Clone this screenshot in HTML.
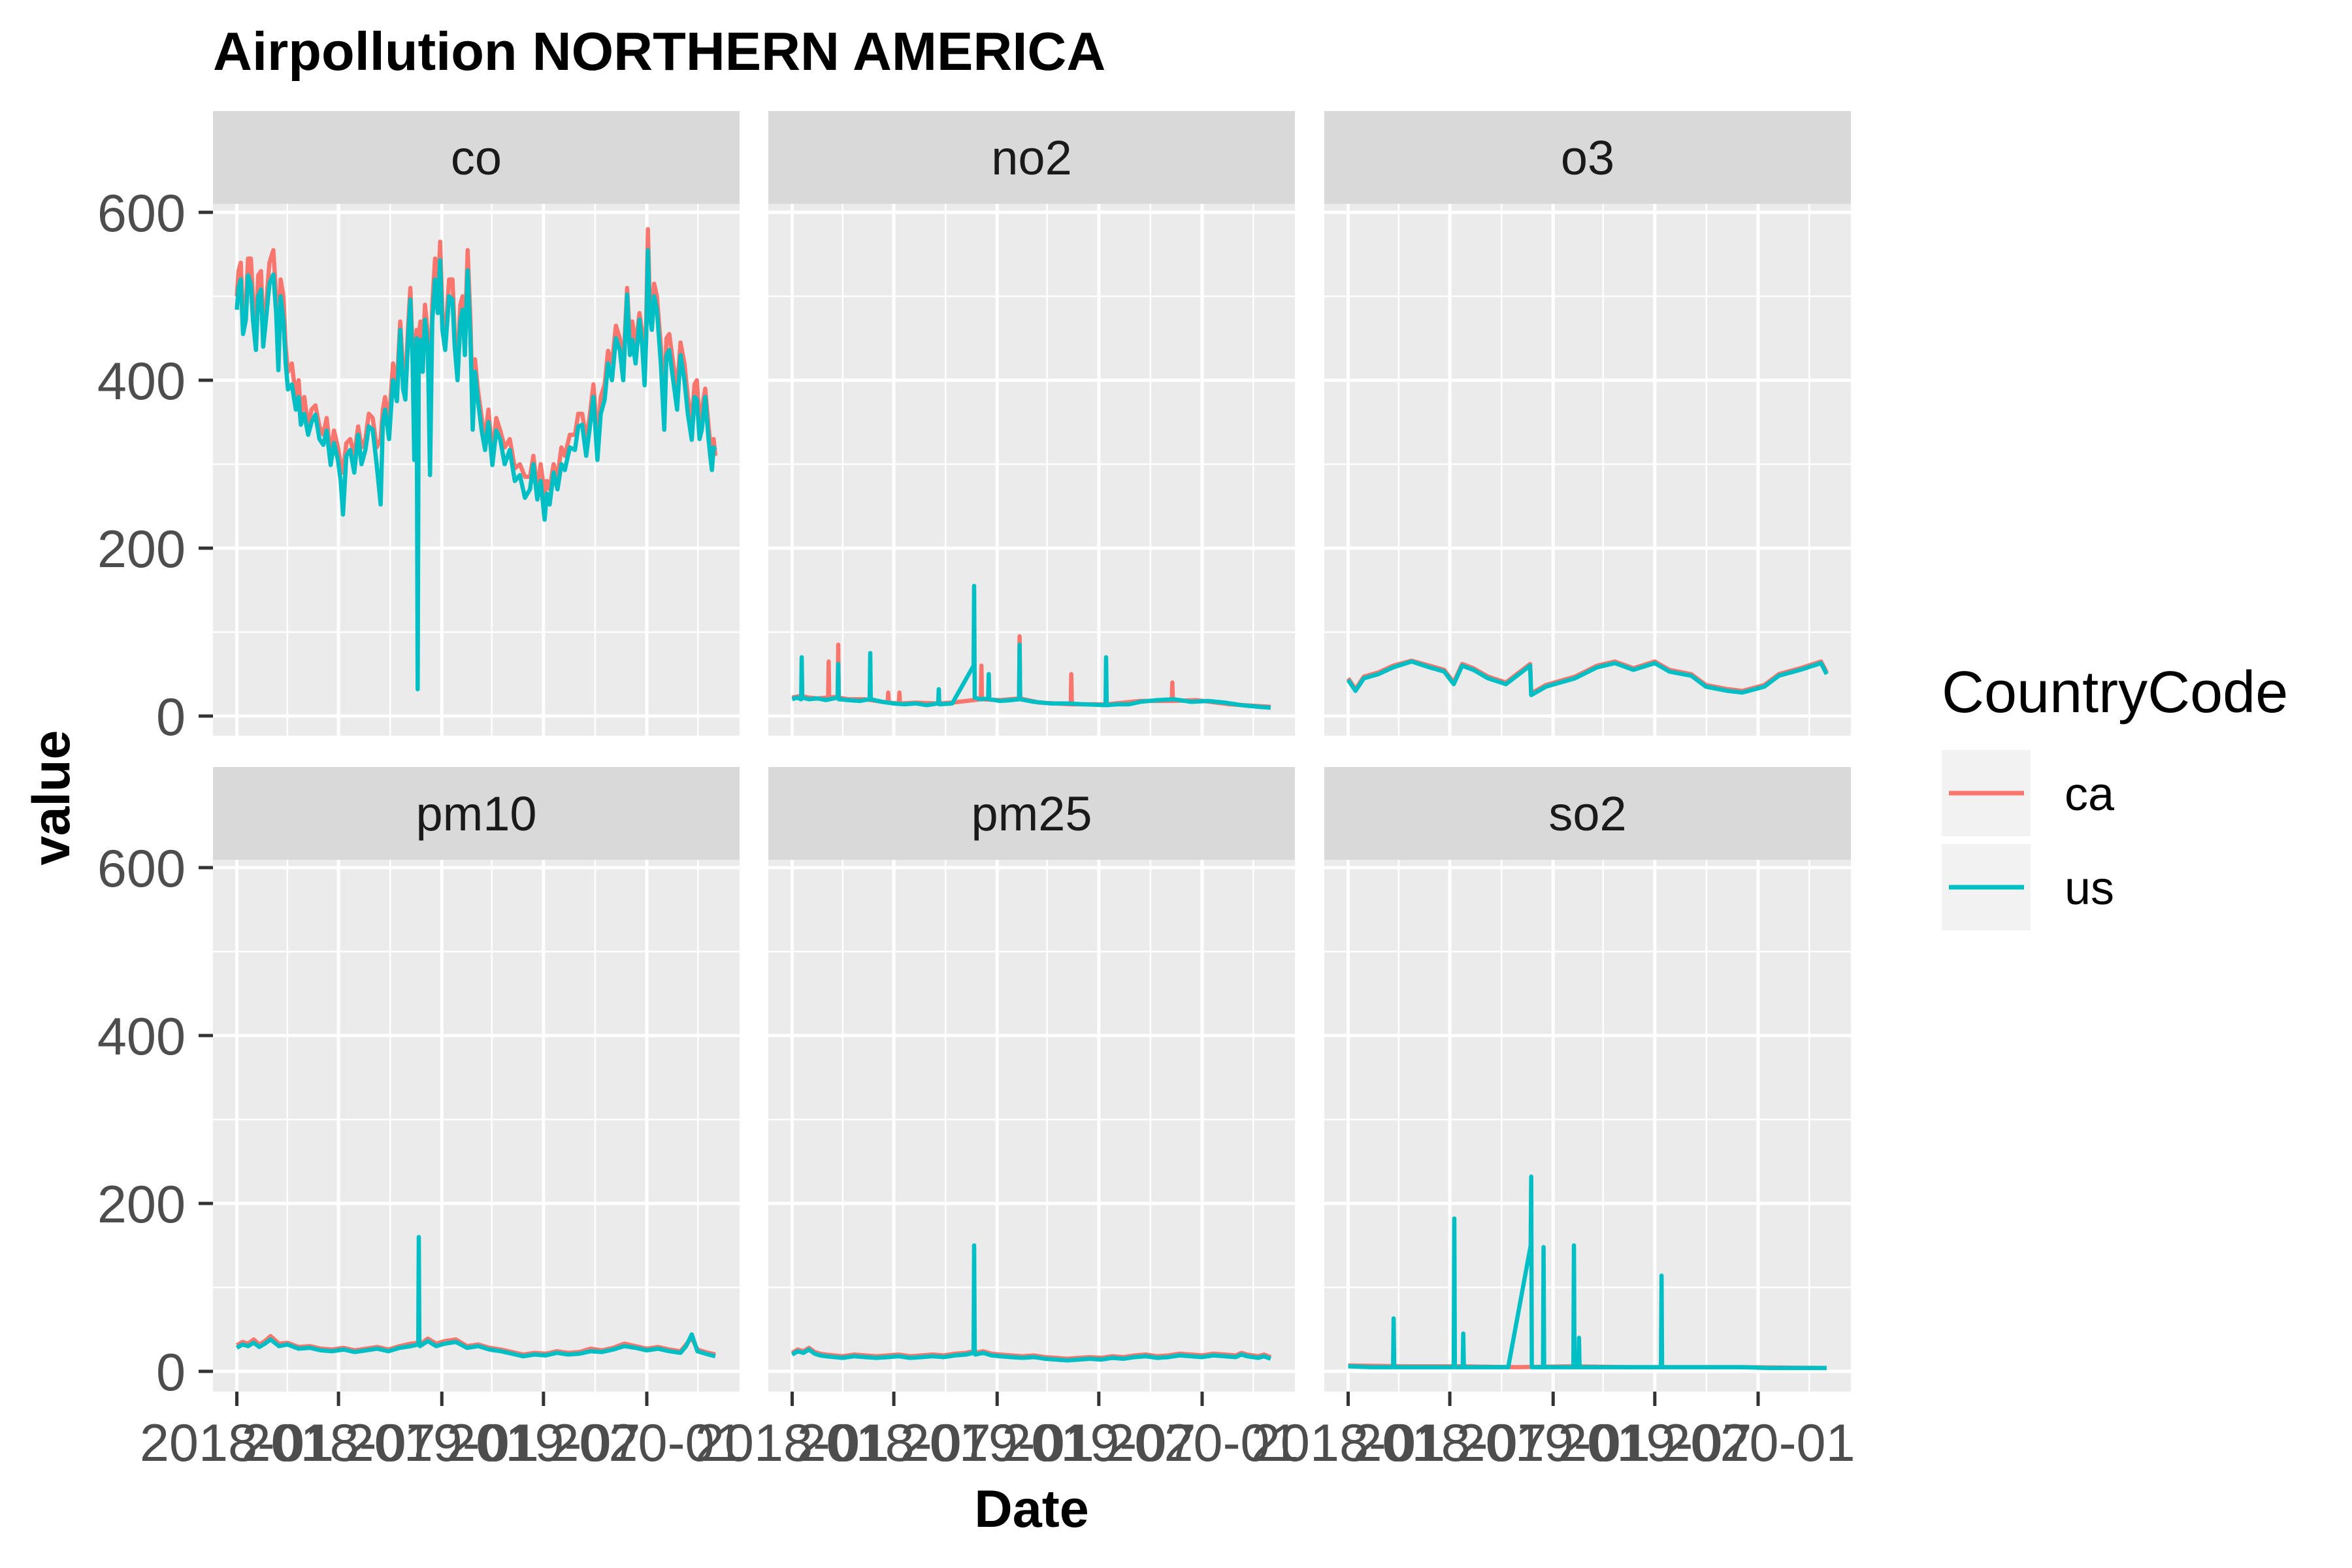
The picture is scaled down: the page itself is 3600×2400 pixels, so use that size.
<!DOCTYPE html>
<html><head><meta charset="utf-8">
<style>
html,body{margin:0;padding:0;background:#fff;}
svg{display:block;font-family:"Liberation Sans",Arial,sans-serif;}
</style></head>
<body>
<svg id="chart" width="3600" height="2400" viewBox="0 0 3600 2400" xmlns="http://www.w3.org/2000/svg">
<rect x="0" y="0" width="3600" height="2400" fill="#ffffff"/>
<text x="326" y="107" font-size="83" font-weight="bold" fill="#000">Airpollution NORTHERN AMERICA</text>
<text transform="translate(106,1221) rotate(-90)" text-anchor="middle" font-size="81" font-weight="bold" fill="#000">value</text>
<text x="1579" y="2337" text-anchor="middle" font-size="81" font-weight="bold" fill="#000">Date</text>
<g>
<text x="2972" y="1090" font-size="90" fill="#000">CountryCode</text>
<g>
<rect x="2972" y="1148" width="136" height="132" fill="#F2F2F2"/>
<line x1="2983" x2="3098" y1="1214" y2="1214" stroke="#F8766D" stroke-width="7"/>
<text x="3160" y="1240" font-size="72" fill="#000">ca</text>
</g>
<g>
<rect x="2972" y="1292" width="136" height="132" fill="#F2F2F2"/>
<line x1="2983" x2="3098" y1="1358" y2="1358" stroke="#00BFC4" stroke-width="7"/>
<text x="3160" y="1384" font-size="72" fill="#000">us</text>
</g>
</g>
<g id="panels"></g>
</svg>
<script>
// ---- data (days since 2018-01-01) ----
const panelNames = ["co","no2","o3","pm10","pm25","so2"];
const xTickLabels = ["2018-01","2018-07","2019-01","2019-07","2020-01"];
const xTickDays = [0,181,365,546,730];
const xMinorDays = [90,273,454,638,821];
const yTickLabels = ["0","200","400","600"];
const yTickValues = [0,200,400,600];
const yMinorValues = [100,300,500];

const coDays = [0,3,7,11,16,20,25,29,34,38,43,47,51,58,65,70,74,78,83,87,91,98,105,110,114,120,127,133,140,147,154,160,167,173,180,185,189,195,202,209,216,222,229,235,242,249,256,260,264,271,278,285,291,296,300,305,309,313,316,320,322,324,327,331,335,340,344,348,353,358,362,366,371,378,384,388,393,398,402,406,411,416,420,424,429,436,442,448,455,462,469,477,486,495,504,513,522,528,535,541,548,552,557,564,571,578,584,593,602,608,615,622,628,635,642,648,655,661,668,675,682,688,695,700,704,710,717,722,726,729,732,735,739,743,748,755,761,765,770,777,784,790,797,803,810,815,819,824,828,834,840,843,846,849,852];
const coUs = [484,510,520,455,472,525,514,470,436,500,508,440,466,515,526,480,412,500,472,420,389,395,365,380,347,360,335,350,359,330,323,340,299,325,305,280,240,310,317,290,335,300,317,345,341,300,252,350,365,330,400,375,460,390,377,450,496,420,305,450,32,440,448,410,472,440,287,470,520,480,543,460,436,500,496,440,400,470,484,430,531,450,341,410,377,340,317,350,299,340,329,300,317,280,287,260,270,300,258,280,234,265,252,290,270,300,293,320,317,345,347,310,341,380,305,360,377,420,400,450,436,400,502,430,448,420,472,440,394,450,555,480,460,500,484,420,341,430,436,400,365,430,400,360,329,380,377,330,341,380,329,310,293,320,317];
const coCa = [500,530,540,470,490,545,545,495,460,525,530,460,480,540,555,500,430,520,500,440,410,420,380,400,360,380,345,365,370,345,335,355,310,340,320,300,290,325,330,310,345,320,330,360,355,320,330,365,380,350,420,395,470,410,395,465,510,430,420,460,430,455,470,430,490,455,350,490,545,500,565,480,450,520,520,455,420,490,500,450,555,470,360,425,390,355,330,365,310,355,340,320,330,295,300,285,285,310,270,300,265,280,270,300,285,320,310,335,335,360,360,330,355,395,330,380,395,435,420,465,450,415,510,445,470,440,480,455,420,470,580,500,480,515,500,440,370,450,455,420,390,445,420,380,350,395,400,350,365,390,345,325,310,330,310];

const no2UsDays = [0,8,16,17,18,30,45,60,81,82,83,100,120,138,139,140,160,180,200,220,240,260,261,262,285,323,324,325,335,349,350,351,370,390,404,405,406,430,460,490,520,558,559,560,580,600,620,650,680,710,740,770,800,830,852];
const no2Us = [20,22,20,70,22,20,21,19,22,62,20,19,18,20,75,20,17,15,14,15,13,15,32,14,15,60,155,22,20,21,50,20,18,19,20,85,20,17,15,15,14,13,70,13,14,14,17,19,20,17,18,16,13,11,10];
const no2CaDays = [0,15,30,45,64,65,66,81,82,83,100,130,170,171,172,190,191,192,220,260,285,336,337,338,370,404,405,406,440,496,497,498,560,620,676,677,678,720,780,852];
const no2Ca = [22,24,22,21,22,65,22,23,85,22,20,20,16,28,16,15,28,15,16,15,16,20,60,20,19,21,95,21,16,14,50,14,14,18,18,40,18,19,14,11];

const o3Days = [0,13,28,54,80,113,145,171,188,203,223,249,281,324,326,352,378,404,443,475,508,546,572,611,637,676,702,741,767,805,842,852];
const o3Us = [43,30,45,50,58,65,58,53,38,60,55,45,38,60,25,35,40,45,58,63,55,63,53,48,35,30,28,35,48,55,63,50];
const o3Ca = [45,32,47,52,60,66,60,55,40,62,57,47,40,62,27,37,42,47,60,65,57,65,55,50,37,32,30,37,50,57,65,52];

const pmDays = [0,10,20,30,40,50,60,75,90,110,130,150,170,190,210,230,250,270,290,310,323,324,325,326,340,355,370,390,410,430,450,470,490,510,530,550,570,590,610,630,650,670,690,710,730,750,770,790,800,810,820,830,840,852];
const pm10Us = [28,32,30,34,29,33,38,30,32,27,28,25,24,26,23,25,27,24,28,30,32,160,35,30,36,30,33,35,28,30,26,24,21,18,20,19,22,20,21,24,23,26,30,28,25,27,24,22,30,44,24,22,20,18];
const pm10Ca = [31,35,33,38,32,36,42,33,34,29,30,27,26,28,25,27,29,26,30,33,34,36,37,32,39,33,36,38,30,32,28,26,23,20,22,21,24,22,23,27,25,28,33,30,27,29,26,24,32,40,26,24,22,20];
const pm25Us = [20,24,22,26,21,19,18,17,16,18,17,16,17,18,16,17,18,17,19,20,22,150,25,20,22,19,18,17,16,17,15,14,13,14,15,14,16,15,17,18,16,17,19,18,17,19,18,17,20,18,17,16,18,15];
const pm25Ca = [22,26,24,28,23,21,20,19,18,20,19,18,19,20,18,19,20,19,21,22,24,26,27,22,24,21,20,19,18,19,17,16,15,16,17,16,18,17,19,20,18,19,21,20,19,21,20,19,22,20,19,18,20,17];

const so2UsDays = [0,40,80,81,82,120,160,188,189,190,204,205,206,240,285,325,326,327,347,348,349,401,402,403,410,411,412,450,500,557,558,559,600,650,700,750,800,852];
const so2Us = [6,5,5,63,5,5,5,5,182,5,5,45,5,5,5,150,232,5,5,148,5,5,150,5,5,40,5,5,5,5,114,5,5,5,5,4,4,4];
const so2CaDays = [0,100,200,300,400,500,600,700,852];
const so2Ca = [7,6,6,5,6,5,5,5,4];

// ---- layout ----
const NS = "http://www.w3.org/2000/svg";
const colX = [326,1176,2027];
const panelW = 806;
const rowStripTop = [170,1174];
const stripH = 142;
const panelTop = [312,1316];
const panelBot = [1126,2130];
const zeroY = [1096,2099];
const pxPerUnit = 1.285;
const pxPerDay = 0.8596;
const xOff = 36.5;
const RED = "#F8766D", CYAN = "#00BFC4";

function xScale(col, d){ return colX[col] + xOff + d*pxPerDay; }
function yScale(row, v){ return zeroY[row] - v*pxPerUnit; }

function mk(tag, attrs, parent){
  const el = document.createElementNS(NS, tag);
  for (const k in attrs) el.setAttribute(k, attrs[k]);
  parent.appendChild(el);
  return el;
}

const root = document.getElementById("panels");
const seriesByPanel = {
  co:   [[coDays,coCa,RED],[coDays,coUs,CYAN]],
  no2:  [[no2CaDays,no2Ca,RED],[no2UsDays,no2Us,CYAN]],
  o3:   [[o3Days,o3Ca,RED],[o3Days,o3Us,CYAN]],
  pm10: [[pmDays,pm10Ca,RED],[pmDays,pm10Us,CYAN]],
  pm25: [[pmDays,pm25Ca,RED],[pmDays,pm25Us,CYAN]],
  so2:  [[so2CaDays,so2Ca,RED],[so2UsDays,so2Us,CYAN]]
};

panelNames.forEach((name, i) => {
  const row = Math.floor(i/3), col = i%3;
  const x0 = colX[col];
  const g = mk("g", {}, root);
  
  
  const strip = mk("rect", {x:x0, y:rowStripTop[row], width:panelW, height:stripH, fill:"#D9D9D9"}, g);
  
  
  const st = mk("text", {x:x0+panelW/2, y:rowStripTop[row]+stripH/2+26, "text-anchor":"middle", "font-size":"74", fill:"#1A1A1A"}, g);
  
  
  st.textContent = name;
  const bg = mk("rect", {x:x0, y:panelTop[row], width:panelW, height:panelBot[row]-panelTop[row], fill:"#EBEBEB"}, g);
  
  
  yMinorValues.forEach(v => {
    const l = mk("line", {x1:x0, x2:x0+panelW, y1:yScale(row,v), y2:yScale(row,v), stroke:"#fff", "stroke-width":"2.5"}, g);
    
    
  });
  xMinorDays.forEach(d => {
    const l = mk("line", {x1:xScale(col,d), x2:xScale(col,d), y1:panelTop[row], y2:panelBot[row], stroke:"#fff", "stroke-width":"2.5"}, g);
    
    
  });
  yTickValues.forEach(v => {
    const l = mk("line", {x1:x0, x2:x0+panelW, y1:yScale(row,v), y2:yScale(row,v), stroke:"#fff", "stroke-width":"5"}, g);
    
    
  });
  xTickDays.forEach(d => {
    const l = mk("line", {x1:xScale(col,d), x2:xScale(col,d), y1:panelTop[row], y2:panelBot[row], stroke:"#fff", "stroke-width":"5"}, g);
    
    
  });
  seriesByPanel[name].forEach(([days, vals, color]) => {
    const pts = days.map((d,k) => xScale(col,d).toFixed(1) + "," + yScale(row,vals[k]).toFixed(1)).join(" ");
    const p = mk("polyline", {points:pts, fill:"none", stroke:color, "stroke-width":"6.5", "stroke-linejoin":"round"}, g);
    
    
  });
  if (col === 0) {
    yTickValues.forEach((v,k) => {
      const t = mk("line", {x1:x0-22, x2:x0, y1:yScale(row,v), y2:yScale(row,v), stroke:"#333", "stroke-width":"5"}, g);
      
      
      const lb = mk("text", {x:x0-42, y:yScale(row,v)+29, "text-anchor":"end", "font-size":"81", fill:"#4D4D4D"}, g);
      
      
      lb.textContent = yTickLabels[k];
    });
  }
  if (row === 1) {
    xTickDays.forEach((d,k) => {
      const t = mk("line", {x1:xScale(col,d), x2:xScale(col,d), y1:panelBot[row], y2:panelBot[row]+22, stroke:"#333", "stroke-width":"5"}, g);
      
      
      const lb = mk("text", {x:xScale(col,d), y:2236, "text-anchor":"middle", "font-size":"81", fill:"#4D4D4D"}, g);
      
      
      lb.textContent = xTickLabels[k];
    });
  }
});
</script>
</body></html>
